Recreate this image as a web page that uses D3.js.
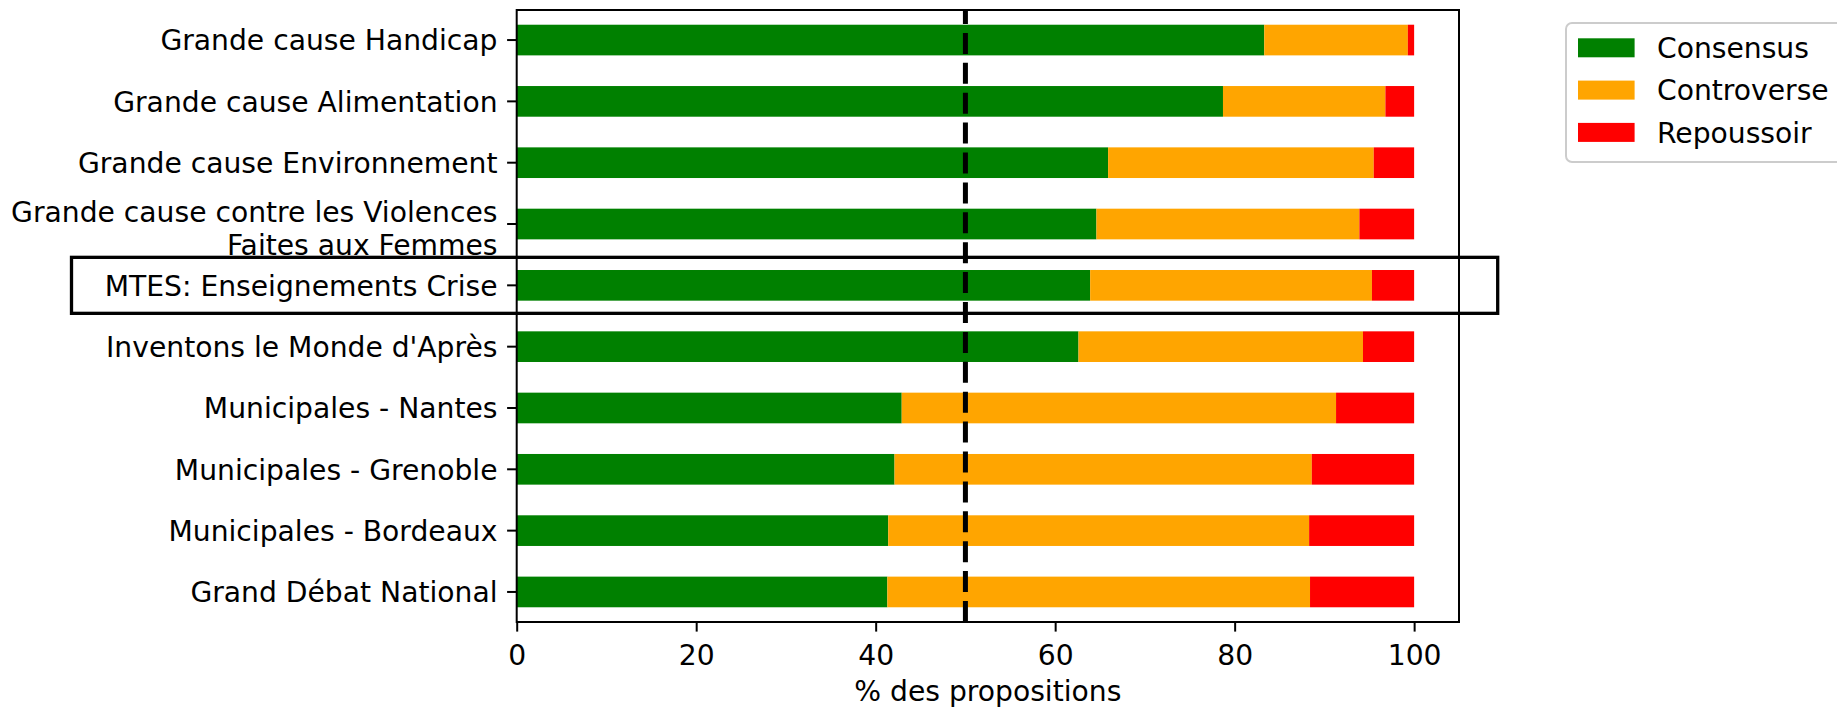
<!DOCTYPE html>
<html>
<head>
<meta charset="utf-8">
<script src="https://cdn.jsdelivr.net/npm/d3@7"></script>
<style>
  body { margin: 0; background: #fff; }
  text { font-family: "DejaVu Sans", sans-serif; fill: #000; }
</style>
</head>
<body>
<svg id="chart"></svg>
<script>
// categories, top to bottom
let categories = [
  "Grande cause Handicap",
  "Grande cause Alimentation",
  "Grande cause Environnement",
  "Grande cause contre les Violences\nFaites aux Femmes",
  "MTES: Enseignements Crise",
  "Inventons le Monde d'Après",
  "Municipales - Nantes",
  "Municipales - Grenoble",
  "Municipales - Bordeaux",
  "Grand Débat National"
]

// % of proposals per category
let consensus   = [83.3, 78.7, 65.9, 64.6, 63.9, 62.6, 42.9, 42.1, 41.4, 41.3]
let controverse = [16.0, 18.1, 29.6, 29.3, 31.4, 31.7, 48.4, 46.5, 46.9, 47.1]
let repoussoir  = [0.7, 3.2, 4.5, 6.1, 4.7, 5.7, 8.7, 11.4, 11.7, 11.6]

let seriesNames = ["Consensus", "Controverse", "Repoussoir"]
let seriesColors = ["#008000", "#ffa500", "#ff0000"]

let xTicks = [0, 20, 40, 60, 80, 100]
let xLabel = "% des propositions"
let threshold = 50
let highlighted = "MTES: Enseignements Crise"

let width = 1837
let height = 711
let margin = { left: 516.7, right: 1459, top: 10, bottom: 622 }
let fontSize = 28.2

let svg = d3.select("#chart")
  .attr("width", width)
  .attr("height", height)

// rows for the stack
let rows = categories.map((c, i) => ({
  cat: c,
  Consensus: consensus[i],
  Controverse: controverse[i],
  Repoussoir: repoussoir[i]
}))

let stacked = d3.stack().keys(seriesNames)(rows)

let xScale = d3.scaleLinear()
  .domain([0, 105])
  .range([margin.left, margin.right])

let yScale = d3.scaleBand()
  .domain(categories)
  .range([margin.top, margin.bottom])
  .paddingInner(0.5)
  .paddingOuter(0.24)

let colorScale = d3.scaleOrdinal()
  .domain(seriesNames)
  .range(seriesColors)

// bars
svg.append("g")
  .selectAll("g")
  .data(stacked)
  .enter()
  .append("g")
  .attr("fill", d => colorScale(d.key))
  .selectAll("rect")
  .data(d => d)
  .enter()
  .append("rect")
  .attr("x", d => xScale(d[0]))
  .attr("width", d => xScale(d[1]) - xScale(d[0]))
  .attr("y", d => yScale(d.data.cat))
  .attr("height", yScale.bandwidth())

// 50% line
svg.append("line")
  .attr("x1", xScale(threshold))
  .attr("x2", xScale(threshold))
  .attr("y1", margin.bottom)
  .attr("y2", margin.top)
  .attr("stroke", "#000")
  .attr("stroke-width", 5)
  .attr("stroke-dasharray", "21,8.9")

// frame
svg.append("rect")
  .attr("x", margin.left)
  .attr("y", margin.top)
  .attr("width", margin.right - margin.left)
  .attr("height", margin.bottom - margin.top)
  .attr("fill", "none")
  .attr("stroke", "#000")
  .attr("stroke-width", 2)

// axes
let xAxis = d3.axisBottom(xScale)
  .tickValues(xTicks)
  .tickSize(9.6)
  .tickSizeOuter(0)
  .tickPadding(13.5)

let gx = svg.append("g")
  .attr("transform", "translate(0," + margin.bottom + ")")
  .call(xAxis)
gx.select(".domain").remove()
gx.selectAll("line").attr("stroke-width", 2)
gx.selectAll("text")
  .style("font-size", fontSize + "px")
  .style("font-family", "DejaVu Sans")

let yAxis = d3.axisLeft(yScale)
  .tickSize(9.6)
  .tickSizeOuter(0)
  .tickPadding(9.6)

let gy = svg.append("g")
  .attr("transform", "translate(" + margin.left + ",0)")
  .call(yAxis)
gy.select(".domain").remove()
gy.selectAll("line").attr("stroke-width", 2)
gy.selectAll("text")
  .style("font-size", fontSize + "px")
  .style("font-family", "DejaVu Sans")
  .each(function(d) {
    let t = d3.select(this)
    let lines = d.split("\n")
    if (lines.length === 1) {
      t.attr("dy", "0.37em")
      return
    }
    t.text(null).attr("dy", null)
    lines.forEach((ln, k) => {
      t.append("tspan")
        .attr("x", t.attr("x"))
        .attr("dy", k === 0 ? "-0.07em" : "1.18em")
        .text(ln)
    })
  })

// x label
svg.append("text")
  .attr("x", (margin.left + margin.right) / 2)
  .attr("y", 701)
  .attr("text-anchor", "middle")
  .style("font-size", fontSize + "px")
  .text(xLabel)

// highlight box round one category
let hy = yScale(highlighted) + yScale.bandwidth() / 2
svg.append("rect")
  .attr("x", 71.5)
  .attr("y", hy - 28)
  .attr("width", 1497.7 - 71.5)
  .attr("height", 56)
  .attr("fill", "none")
  .attr("stroke", "#000")
  .attr("stroke-width", 3.3)

// legend
let legend = svg.append("g")
  .attr("transform", "translate(1566,23)")

legend.append("rect")
  .attr("width", 300)
  .attr("height", 139)
  .attr("rx", 6)
  .attr("fill", "#fff")
  .attr("fill-opacity", 0.8)
  .attr("stroke", "#cccccc")
  .attr("stroke-width", 2)

let items = legend.selectAll(".item")
  .data(seriesNames)
  .enter()
  .append("g")
  .attr("class", "item")
  .attr("transform", (d, i) => "translate(0," + (24.8 + i * 42.3) + ")")

items.append("rect")
  .attr("x", 12)
  .attr("y", -9.5)
  .attr("width", 56.6)
  .attr("height", 19)
  .attr("fill", d => colorScale(d))

items.append("text")
  .attr("x", 91)
  .attr("dy", "0.36em")
  .style("font-size", fontSize + "px")
  .text(d => d)
</script>
</body>
</html>
